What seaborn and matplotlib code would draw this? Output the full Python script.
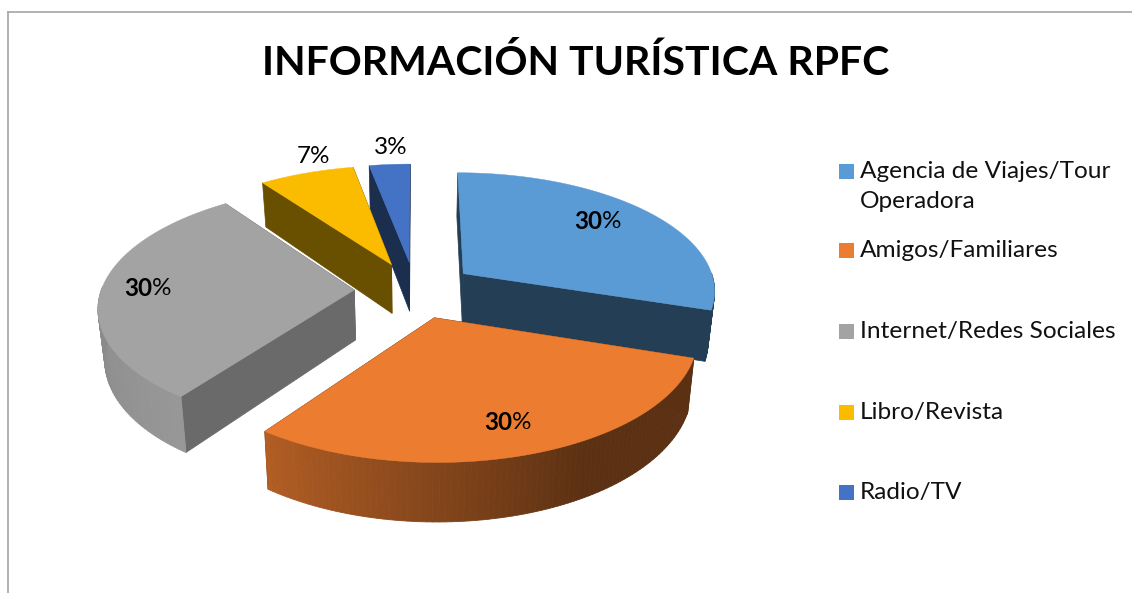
import numpy as np
import matplotlib
matplotlib.use("Agg")
import matplotlib.pyplot as plt
from matplotlib.patches import Rectangle
import seaborn as sns

categories = ["Agencia de Viajes/Tour\nOperadora", "Amigos/Familiares",
              "Internet/Redes Sociales", "Libro/Revista", "Radio/TV"]
shares = [30, 30, 30, 7, 3]
title = "INFORMACIÓN TURÍSTICA RPFC"

palette = sns.color_palette(["#5B9BD5", "#EB7C30", "#A3A3A3", "#FBBC00", "#4472C4"])
cut_shade = [0.40, 0.40, 0.65, 0.42, 0.40]
# outer wall shade: (angle clockwise from top, brightness)
wall_angles = [100, 150, 216, 270, 300, 360]
wall_shades = [[.40, .40, .40, .40, .40, .40],
               [.39, .39, .76, .76, .76, .76],
               [.90, .90, .93, .84, .82, .82],
               [.5, .5, .5, .5, .5, .5],
               [.5, .5, .5, .5, .5, .5]]
draw_order = [4, 3, 0, 2, 1]
label_xy = [(602, 222), (512, 423), (152, 289), (313, 157), (391, 148)]
legend_y = [171, 250, 331, 412, 492]

CX, CY, RX, RY, DEPTH, PERSP, EXPLODE = 415, 290, 253, 118, 50, 0.13, 0.24
TAPER = 0.022

sns.set_theme(style="white")
plt.rcParams["font.family"] = ["Lato", "DejaVu Sans"]
fig = plt.figure(figsize=(11.32, 5.93), dpi=100, facecolor="white")
ax = fig.add_axes([8 / 1132, 0, 1 - 8 / 1132, 1 - 12 / 593])
ax.set_xlim(8, 1132)
ax.set_ylim(593, 12)
ax.set_xticks([])
ax.set_yticks([])
sns.despine(ax=ax, top=False, right=True, bottom=True)
for s in ("top", "left"):
    ax.spines[s].set_color("#A6A6A6")
    ax.spines[s].set_linewidth(1.2)


def project(X, Y, Z=0.0):
    Z = np.asarray(Z, float)
    w = 1 + PERSP * np.asarray(Y, float)
    return (CX + RX * np.asarray(X, float) / (w * (1 + TAPER * Z)),
            CY + (-RY * np.asarray(Y, float) + DEPTH * Z) / w)


def shade(color, k):
    return tuple(c * k for c in color)


edges = np.cumsum([0] + shares) / sum(shares) * 2 * np.pi
slices = []
for i in range(len(shares)):
    a0, a1 = edges[i], edges[i + 1]
    mid = (a0 + a1) / 2
    ox, oy = EXPLODE * np.sin(mid), EXPLODE * np.cos(mid)
    th = np.linspace(a0, a1, max(int(shares[i] * 3), 12))
    slices.append((a0, a1, ox, oy, th))

for i in draw_order:
    a0, a1, ox, oy, th = slices[i]
    col = palette[i]
    # cut walls, farther one first
    walls = sorted([a0, a1], key=lambda a: -(oy + 0.5 * np.cos(a)))
    for a in walls:
        X = np.array([ox, ox + np.sin(a), ox + np.sin(a), ox])
        Y = np.array([oy, oy + np.cos(a), oy + np.cos(a), oy])
        Z = np.array([0, 0, 1, 1])
        sx, sy = project(X, Y, Z)
        c = shade(col, cut_shade[i])
        ax.fill(sx, sy, color=c, lw=0.5, zorder=1)
    # outer wall with gradient: only the front-facing part
    X = ox + np.sin(th)
    Y = oy + np.cos(th)
    for j in range(len(th) - 1):
        deg = np.degrees((th[j] + th[j + 1]) / 2)
        if not 90 <= deg <= 272:
            continue
        sx0, sy0 = project(X[j:j + 2], Y[j:j + 2], 0)
        sx1, sy1 = project(X[j:j + 2], Y[j:j + 2], 1)
        k = np.interp(deg, wall_angles, wall_shades[i])
        c = shade(col, k)
        ax.fill(np.r_[sx0, sx1[::-1]], np.r_[sy0, sy1[::-1]], color=c, lw=0.6, zorder=1)
    # top face
    sx, sy = project(np.r_[ox, X], np.r_[oy, Y], 0)
    ax.fill(sx, sy, color=col, lw=0.3, zorder=1)

for i, (x, y) in enumerate(label_xy):
    if shares[i] >= 30:
        ax.text(x, y, str(shares[i]), ha="right", va="center", fontsize=17.5, fontweight="bold", color="black", zorder=5)
        ax.text(x, y, "%", ha="left", va="center", fontsize=17.5, color="black", zorder=5)
    else:
        ax.text(x, y, f"{shares[i]}%", ha="center", va="center", fontsize=17.5, color="black", zorder=5)

ax.text(576, 63, title, ha="center", va="center", fontsize=29.5, fontweight="bold", color="black")

for i, name in enumerate(categories):
    y = legend_y[i]
    ax.add_patch(Rectangle((839, y - 7), 15, 15, color=palette[i], lw=0))
    ax.text(860, y - 10, name, ha="left", va="top", fontsize=17.6, color="#111111", linespacing=1.55)

fig.savefig("out.png", dpi=100)
